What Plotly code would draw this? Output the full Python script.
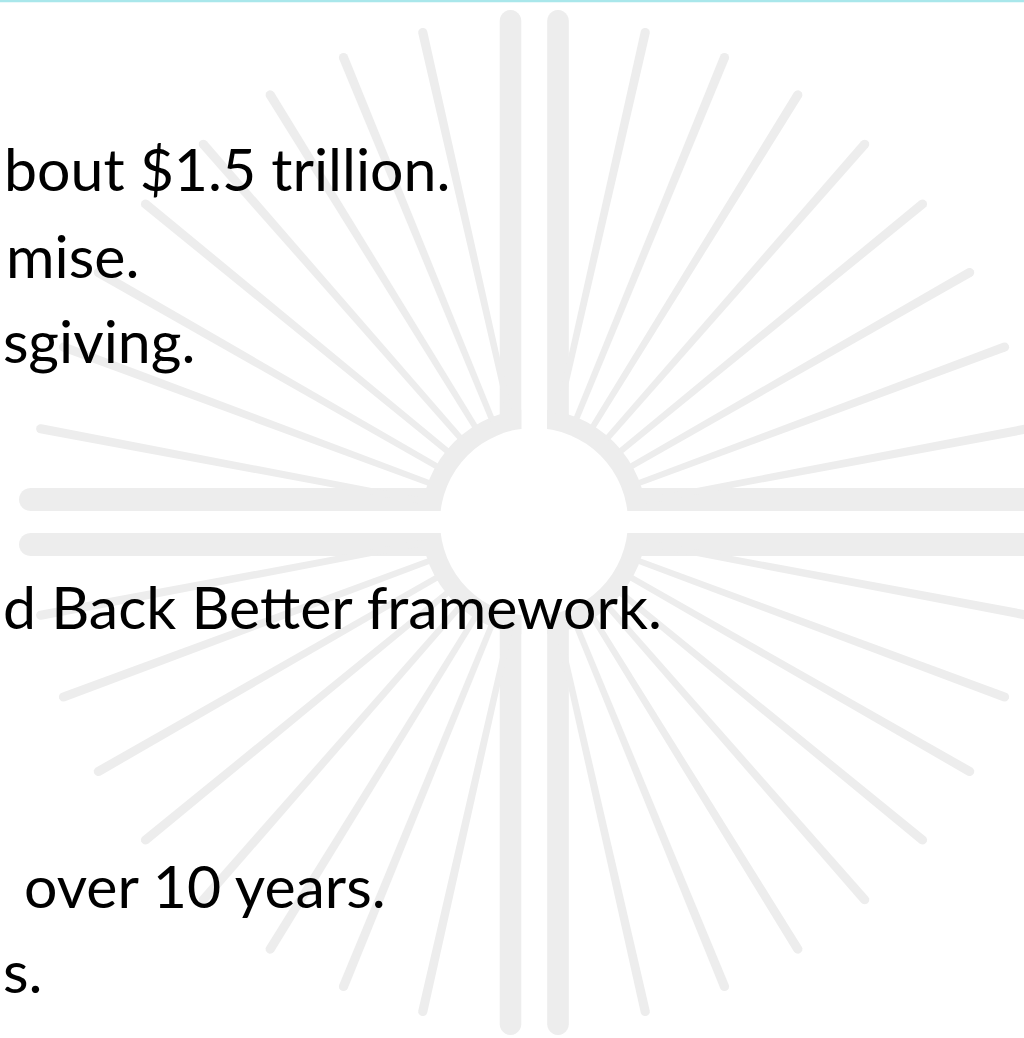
import numpy as np
import plotly.graph_objects as go

# ---------------- data ----------------
# ray directions in each quadrant, degrees measured from the vertical axis
RAY_ANGLES = [12.8, 22.3, 31.7, 41.2, 50.7, 60.2, 69.6, 79.3]
RAY_LENGTHS = [502, 502, 502, 502, 502, 502, 502, 502]

# visible text of the (cropped) slide
TEXT_LINES = [
    "bout $1.5 trillion.",
    "mise.",
    "sgiving.",
    "d Back Better framework.",
    "over 10 years.",
    "s.",
]
TEXT_LEFT = [2, 4, 1, 1, 22, 1]
TEXT_BASE = [190, 277, 362, 628, 907, 992]

# ---------------- layout constants ----------------
W, H = 1024, 1038
CX, CY = 534, 522
GRAY = "#EDEDED"
R_HOLE = 94
R_RING = 113
R_RAY0 = 112
VBAR_X = [510.5, 558.0]
VBAR_HW = 10.8
VBAR_TOP, VBAR_BOT = 10, 1035
HBAR_Y = [499.5, 544.5]
HBAR_HW = 11.5
HBAR_LEFT = 19
FONT = "Lato"
FSIZE = 59


def fmt(pts):
    return "M " + " L ".join(f"{x:.2f},{y:.2f}" for x, y in pts) + " Z"


def ray_path(ux, uy, r0, r1, w0, w1):
    nx, ny = -uy, ux
    p0 = (CX + ux * r0, CY + uy * r0)
    p1 = (CX + ux * r1, CY + uy * r1)
    pts = []
    for t in np.linspace(0, np.pi, 9):
        pts.append((p1[0] + w1 * (nx * np.cos(t) + ux * np.sin(t)),
                    p1[1] + w1 * (ny * np.cos(t) + uy * np.sin(t))))
    for t in np.linspace(0, np.pi, 9):
        pts.append((p0[0] + w0 * (-nx * np.cos(t) - ux * np.sin(t)),
                    p0[1] + w0 * (-ny * np.cos(t) - uy * np.sin(t))))
    return fmt(pts)


def capsule_v(xc, hw, y_tip, y_end):
    s = 1 if y_end > y_tip else -1
    yc = y_tip + s * hw
    pts = [(xc - hw, y_end)]
    for t in np.linspace(np.pi, 0, 13):
        pts.append((xc + hw * np.cos(t), yc - s * hw * np.sin(t)))
    pts.append((xc + hw, y_end))
    return fmt(pts)


def capsule_h(yc, hw, x_tip, x_end):
    xc = x_tip + hw
    pts = [(x_end, yc - hw)]
    for t in np.linspace(-np.pi / 2, -3 * np.pi / 2, 13):
        pts.append((xc + hw * np.cos(t), yc + hw * np.sin(t)))
    pts.append((x_end, yc + hw))
    return fmt(pts)


shapes = []
shapes.append(dict(type="rect", x0=0, x1=W, y0=0, y1=2.2, fillcolor="#A9E7EB",
                   line=dict(width=0), layer="above"))
shapes.append(dict(type="circle", x0=CX - R_RING, x1=CX + R_RING, y0=CY - R_RING, y1=CY + R_RING,
                   fillcolor=GRAY, line=dict(width=0), layer="above"))
gx0, gx1 = VBAR_X[0] + VBAR_HW, VBAR_X[1] - VBAR_HW
gy0, gy1 = HBAR_Y[0] + HBAR_HW, HBAR_Y[1] - HBAR_HW
shapes.append(dict(type="rect", x0=gx0, x1=gx1, y0=CY - R_RING - 5, y1=CY + R_RING + 5,
                   fillcolor="white", line=dict(width=0), layer="above"))
shapes.append(dict(type="rect", x0=CX - R_RING - 5, x1=CX + R_RING + 5, y0=gy0, y1=gy1,
                   fillcolor="white", line=dict(width=0), layer="above"))
for xc in VBAR_X:
    shapes.append(dict(type="path", path=capsule_v(xc, VBAR_HW, VBAR_TOP, CY), fillcolor=GRAY,
                       line=dict(width=0), layer="above"))
    shapes.append(dict(type="path", path=capsule_v(xc, VBAR_HW, VBAR_BOT, CY), fillcolor=GRAY,
                       line=dict(width=0), layer="above"))
for yc in HBAR_Y:
    shapes.append(dict(type="path", path=capsule_h(yc, HBAR_HW, HBAR_LEFT, W + 60), fillcolor=GRAY,
                       line=dict(width=0), layer="above"))
for sx, sy in [(-1, -1), (1, -1), (-1, 1), (1, 1)]:
    for a, L in zip(RAY_ANGLES, RAY_LENGTHS):
        ar = np.radians(a)
        ux, uy = sx * np.sin(ar), sy * np.cos(ar)
        shapes.append(dict(type="path", path=ray_path(ux, uy, R_RAY0, L, 3.0, 4.6),
                           fillcolor=GRAY, line=dict(width=0), layer="above"))
shapes.append(dict(type="circle", x0=CX - R_HOLE, x1=CX + R_HOLE, y0=CY - R_HOLE, y1=CY + R_HOLE,
                   fillcolor="white", line=dict(width=0), layer="above"))

annotations = []
for txt, xl, yb in zip(TEXT_LINES, TEXT_LEFT, TEXT_BASE):
    annotations.append(dict(text=txt, x=xl, y=yb - 0.36 * FSIZE, xref="x", yref="y",
                            xanchor="left", yanchor="middle", showarrow=False,
                            font=dict(family=FONT, size=FSIZE, color="#000000")))

fig = go.Figure()
fig.add_trace(go.Scatter(x=[0, W], y=[0, H], mode="markers", marker=dict(opacity=0),
                         hoverinfo="skip", showlegend=False))
fig.update_layout(
    width=W, height=H, autosize=False,
    margin=dict(l=0, r=0, t=0, b=0, pad=0),
    paper_bgcolor="white", plot_bgcolor="white",
    xaxis=dict(range=[0, W], visible=False, fixedrange=True),
    yaxis=dict(range=[H, 0], visible=False, fixedrange=True),
    shapes=shapes, annotations=annotations, showlegend=False,
)
fig.write_html("out.html", config={"displayModeBar": False},
               post_script="document.body.style.margin='0';document.body.style.overflow='hidden';")
